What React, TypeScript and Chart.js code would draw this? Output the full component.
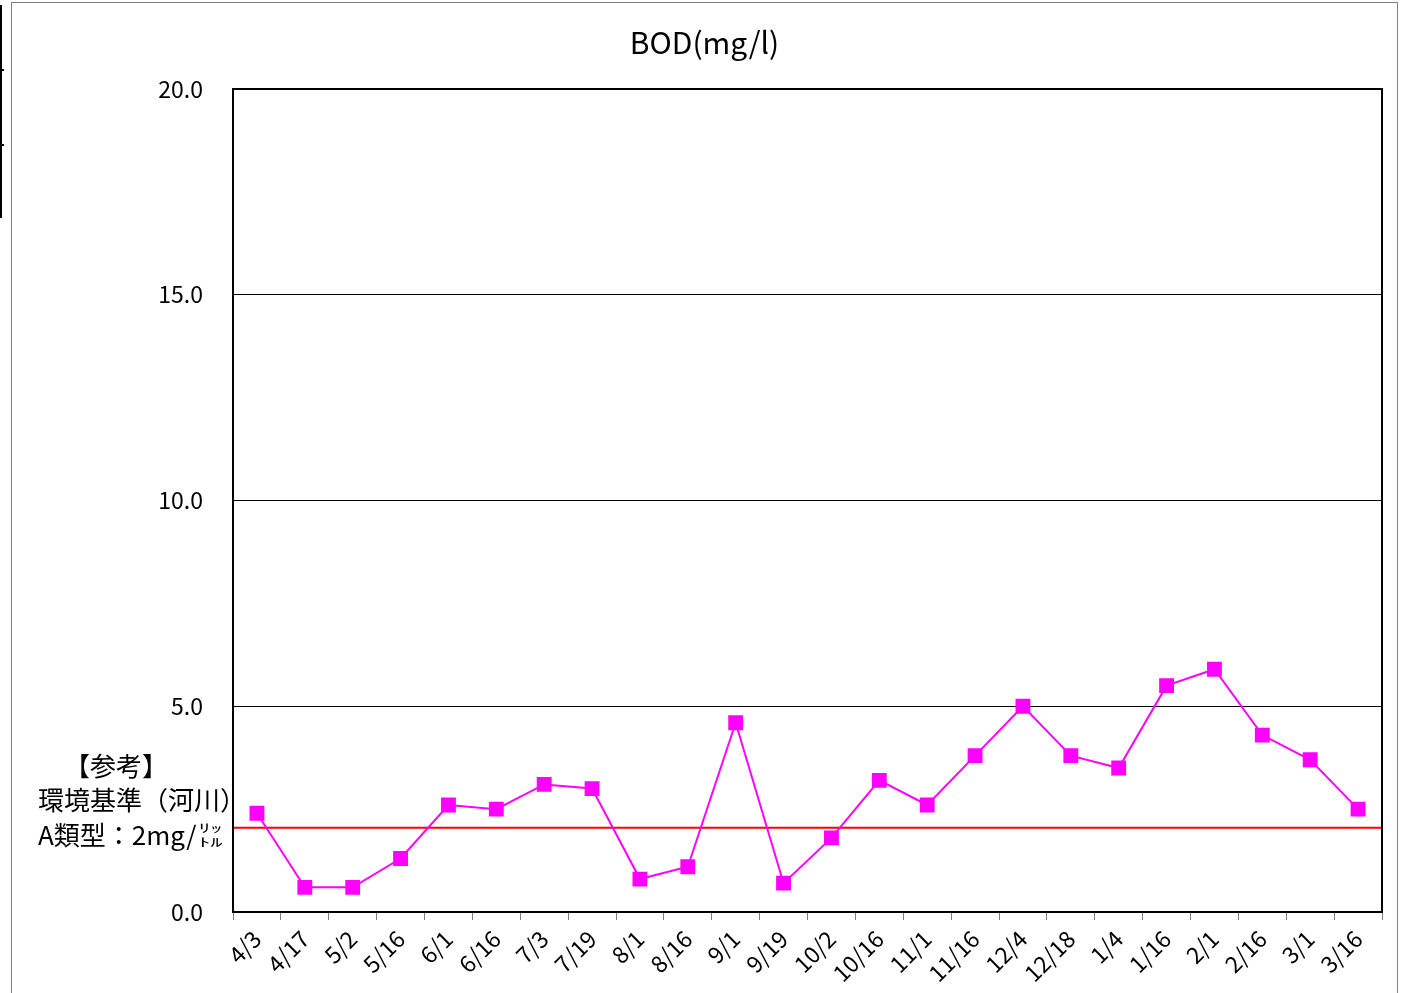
import React, { useEffect, useRef } from "react";
import { Chart, registerables } from "chart.js";

Chart.register(...registerables);

const categories = [
  "4/3", "4/17", "5/2", "5/16", "6/1", "6/16", "7/3", "7/19", "8/1", "8/16", "9/1", "9/19",
  "10/2", "10/16", "11/1", "11/16", "12/4", "12/18", "1/4", "1/16", "2/1", "2/16", "3/1", "3/16",
];
const bodValues = [
  2.4, 0.6, 0.6, 1.3, 2.6, 2.5, 3.1, 3.0, 0.8, 1.1, 4.6, 0.7,
  1.8, 3.2, 2.6, 3.8, 5.0, 3.8, 3.5, 5.5, 5.9, 4.3, 3.7, 2.5,
];
const standardValue = 2;
const yTicks = [0, 5, 10, 15, 20];
const titleText = "BOD(mg/l)";
const noteLines = ["【参考】", "環境基準（河川）", "A類型：2mg/"];
const unitTop = "ﾘｯ";
const unitBottom = "ﾄﾙ";

const JP = '"Noto Sans CJK JP", "Noto Sans", sans-serif';

const decorPlugin = {
  id: "decor",
  beforeDraw(chart: any) {
    const ctx = chart.ctx;
    ctx.save();
    ctx.strokeStyle = "#808080";
    ctx.lineWidth = 1;
    ctx.strokeRect(11.5, 2.5, 1386, 1010);
    ctx.strokeStyle = "#000";
    ctx.lineWidth = 2;
    ctx.beginPath();
    ctx.moveTo(1, 5);
    ctx.lineTo(1, 218);
    ctx.moveTo(0, 70);
    ctx.lineTo(4, 70);
    ctx.moveTo(0, 145);
    ctx.lineTo(4, 145);
    ctx.stroke();
    ctx.restore();
  },
  beforeDatasetsDraw(chart: any) {
    const { ctx, chartArea, scales } = chart;
    const y = scales.y.getPixelForValue(standardValue) - 2;
    ctx.save();
    ctx.strokeStyle = "#FF0000";
    ctx.lineWidth = 2;
    ctx.beginPath();
    ctx.moveTo(chartArea.left, y);
    ctx.lineTo(chartArea.right, y);
    ctx.stroke();
    ctx.restore();
  },
  afterDraw(chart: any) {
    const { ctx, chartArea } = chart;
    ctx.save();
    ctx.strokeStyle = "#000";
    ctx.lineWidth = 2;
    ctx.strokeRect(chartArea.left, chartArea.top, chartArea.right - chartArea.left, chartArea.bottom - chartArea.top);
    // title
    ctx.fillStyle = "#000";
    ctx.font = `30px ${JP}`;
    ctx.textAlign = "center";
    ctx.textBaseline = "middle";
    ctx.fillText(titleText, (chartArea.left + chartArea.right) / 2 - 103, 43);
    // note
    ctx.font = `26px ${JP}`;
    ctx.textAlign = "left";
    ctx.fillText(noteLines[0], 64, 766);
    ctx.fillText(noteLines[1], 38, 800);
    ctx.fillText(noteLines[2], 38, 835);
    const w = ctx.measureText(noteLines[2]).width;
    ctx.font = `24px ${JP}`;
    ctx.translate(38 + w + 2, 0);
    ctx.scale(1, 0.5);
    ctx.fillText(unitTop, 0, 828 * 2);
    ctx.fillText(unitBottom, 0, 842 * 2);
    ctx.restore();
  },
};

export default function App() {
  const ref = useRef<HTMLCanvasElement>(null);
  useEffect(() => {
    document.body.style.margin = "0";
    const chart = new Chart(ref.current!, {
      type: "line",
      data: {
        labels: categories,
        datasets: [
          {
            data: bodValues,
            borderColor: "#FF00FF",
            backgroundColor: "#FF00FF",
            borderWidth: 2,
            pointStyle: "rect",
            pointRadius: 10.5,
            pointBorderWidth: 0,
            tension: 0,
          },
        ],
      },
      options: {
        animation: false,
        responsive: false,
        maintainAspectRatio: false,
        layout: { padding: { left: 0, right: 23, top: 89, bottom: 0 } },
        plugins: { legend: { display: false }, title: { display: false }, tooltip: { enabled: false } },
        scales: {
          x: {
            type: "category",
            offset: true,
            grid: { offset: true, drawOnChartArea: false, drawTicks: true, tickLength: 8, tickColor: "#808080", lineWidth: 1 },
            border: { color: "#000", width: 2 },
            ticks: {
              color: "#000",
              font: { family: JP, size: 23 },
              maxRotation: 45,
              minRotation: 45,
              autoSkip: false,
              padding: 5,
            },
            afterFit(scale: any) {
              scale.height = 81;
            },
          },
          y: {
            min: 0,
            max: 20,
            afterBuildTicks(scale: any) {
              scale.ticks = yTicks.map((v) => ({ value: v }));
            },
            grid: { color: "#000", lineWidth: 1, drawTicks: false },
            border: { color: "#000", width: 2 },
            ticks: {
              color: "#000",
              font: { family: JP, size: 23 },
              padding: 30,
              callback: (v: any) => Number(v).toFixed(1),
            },
            afterFit(scale: any) {
              scale.width = 233;
            },
          },
        },
      },
      plugins: [decorPlugin],
    });
    return () => chart.destroy();
  }, []);
  return <canvas ref={ref} width={1405} height={993} style={{ display: "block", width: 1405, height: 993 }} />;
}
